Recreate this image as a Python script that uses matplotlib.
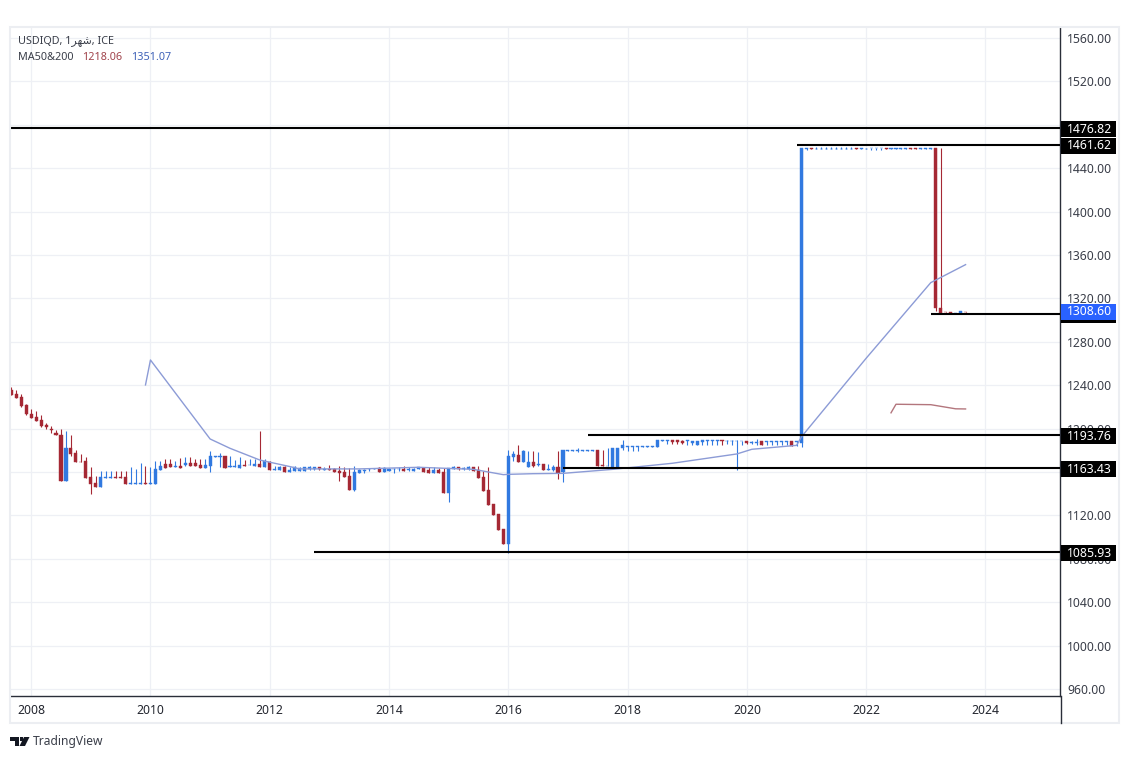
import matplotlib
matplotlib.use("Agg")
import matplotlib.pyplot as plt
import numpy as np
from matplotlib.patches import Rectangle, Polygon
from matplotlib.transforms import blended_transform_factory

plt.rcParams['font.family'] = ['Noto Sans', 'DejaVu Sans']

W, H = 1130, 759
RED = '#a52834'
BLUE = '#3179e0'
TEXT = '#3a3e49'
GRID = '#eef0f5'

# monthly candles, one row per calendar year, first candle is sep 2007
highs = [
    1238, 1235.6, 1231.9, 1222.7,
    1217.8, 1215.9, 1212.5, 1205.5, 1202.4, 1198.7, 1199.3, 1197.8, 1194.1, 1180.3, 1176.6, 1173.5,
    1164.3, 1156, 1160.6, 1160.9, 1160.9, 1160.9, 1160.9, 1160.9, 1164.3, 1162.8, 1168, 1165.5,
    1164.3, 1170.2, 1170.2, 1171.7, 1171.7, 1169.8, 1172.9, 1173.5, 1173.5, 1172, 1172, 1172,
    1179.4, 1174.8, 1177.8, 1174.8, 1174.8, 1171, 1173.5, 1171, 1172.3, 1172.3, 1198, 1171.7,
    1170.2, 1165.5, 1165.5, 1165.5, 1164.9, 1165.5, 1164.9, 1164.9, 1165.5, 1164.9, 1164.9, 1164.3,
    1166.4, 1164, 1165.5, 1164.9, 1163.4, 1165.5, 1162.4, 1163.1, 1163.7, 1163.4, 1164.3, 1164.3,
    1163.7, 1163.7, 1164.3, 1165.5, 1164.9, 1163.7, 1164.3, 1164.3, 1164.3, 1164.3, 1163.4, 1163.4,
    1163.4, 1165.5, 1164.6, 1164.3, 1165.5, 1164.3, 1165.5, 1161.2, 1164.3, 1130.5, 1121.3, 1107.2,
    1180.3, 1179.7, 1184.9, 1180.3, 1179.7, 1179.7, 1178.4, 1167.4, 1167.1, 1166.4, 1179.6, 1180.3,
    1180.2, 1180.2, 1181.8, 1180.2, 1180.2, 1180.2, 1179.9, 1179.9, 1182.1, 1182.1, 1182.1, 1189.5,
    1183.9, 1183.9, 1183.9, 1183.9, 1183.9, 1183.9, 1189.5, 1189.5, 1189.5, 1189.5, 1189.5, 1189.5,
    1189.5, 1188.9, 1188.9, 1189.5, 1189.5, 1189.5, 1189.5, 1189.5, 1189.5, 1189.5, 1189.5, 1188.9,
    1188.5, 1188.9, 1190.1, 1188.5, 1188.5, 1188.5, 1188.5, 1188.5, 1188.5, 1188.5, 1188.5, 1458.6,
    1458.6, 1458.6, 1459.2, 1459.2, 1459.2, 1459.2, 1459.2, 1459.2, 1459.2, 1459.2, 1458.6, 1458.6,
    1459, 1458.6, 1458.6, 1458.6, 1458.6, 1458.3, 1458.3, 1458.3, 1458.3, 1458.3, 1458.3, 1458.3,
    1458.3, 1458.3, 1458.3, 1458.3, 1307.8, 1307.8, 1306.8, 1308.1, 1307.8,
]
lows = [
    1231.3, 1228.5, 1220.2, 1212.5,
    1209.5, 1206.7, 1201.8, 1199.6, 1196.3, 1194.4, 1152, 1152, 1175, 1169.5, 1169.2, 1154.8,
    1140, 1146.5, 1146.5, 1154.8, 1154.8, 1154.8, 1154.8, 1149.3, 1149.3, 1149.3, 1149.3, 1149.3,
    1149.3, 1149.3, 1162.2, 1163.7, 1164.6, 1164.6, 1163.7, 1165.5, 1165.5, 1165.5, 1163.7, 1163.7,
    1160.3, 1173.5, 1164.3, 1163.7, 1164.9, 1164.9, 1163.7, 1165.5, 1166.2, 1165.5, 1164.9, 1164.9,
    1161.9, 1161.9, 1161.9, 1160, 1160, 1161.3, 1161.2, 1161.2, 1161.8, 1161.8, 1161.8, 1161.8,
    1161.8, 1160.3, 1152, 1155.7, 1143.4, 1142.5, 1159.4, 1159.4, 1160.6, 1162.8, 1160, 1160,
    1160.6, 1159.4, 1161.2, 1161.2, 1161.2, 1161.2, 1162.4, 1160.3, 1159.4, 1159.4, 1159.4, 1141,
    1132.7, 1162.4, 1161.8, 1161.8, 1161.8, 1161.2, 1154.5, 1142.8, 1129.6, 1120.4, 1106.5, 1093.6,
    1085, 1170.4, 1169.2, 1169.2, 1164.9, 1164.9, 1165.5, 1161.8, 1161.8, 1161.2, 1153.5, 1151,
    1179.6, 1179.6, 1178.1, 1179.6, 1179.6, 1179.6, 1165.5, 1165.5, 1165.2, 1164.6, 1164.6, 1180.3,
    1179.6, 1179.6, 1179.6, 1183.3, 1183.3, 1183.3, 1183.3, 1188.9, 1185.8, 1185.8, 1185.8, 1185.8,
    1184.9, 1184.9, 1184.6, 1184.9, 1184.9, 1184.9, 1184.9, 1184.9, 1185.8, 1184.9, 1161.8, 1184.9,
    1185.8, 1185.8, 1184.9, 1184.9, 1184.6, 1184.6, 1184.6, 1184.6, 1184.6, 1184.2, 1184.2, 1183,
    1457, 1457.4, 1457.4, 1457.4, 1457.4, 1457.4, 1457.4, 1457.4, 1457.4, 1457.4, 1457.4, 1457.4,
    1457.4, 1457, 1457, 1457, 1457.4, 1458, 1458, 1458, 1458, 1458, 1458, 1458,
    1458, 1458, 1308.7, 1305.9, 1305.6, 1306.2, 1306.5, 1306.2, 1305.6,
]
body_top = [
    1235.6, 1231.9, 1228.8, 1221.8,
    1213.5, 1210.7, 1207.6, 1203.3, 1199.3, 1196.3, 1194.1, 1181.8, 1182.1, 1177.5, 1169.5, 1170.2,
    1155.1, 1149.9, 1155.1, 1155.4, 1155.4, 1155.4, 1155.4, 1155.4, 1149.6, 1149.6, 1149.6, 1149.6,
    1149.6, 1162.8, 1165.5, 1167.4, 1167.4, 1165.2, 1165.2, 1168.3, 1168.3, 1168.3, 1166.8, 1166.8,
    1174.8, 1174.8, 1174.8, 1174.8, 1165.5, 1165.5, 1166.5, 1166.5, 1166.8, 1167.4, 1167.4, 1170.2,
    1169.2, 1162.5, 1164.9, 1164.9, 1161.9, 1164.9, 1164, 1164.3, 1164.9, 1164.3, 1164.3, 1162.8,
    1162.8, 1162.8, 1160.6, 1160, 1156.3, 1160, 1161.8, 1162.1, 1163.1, 1163.1, 1163.7, 1163.4,
    1162.4, 1163.1, 1163.1, 1162.8, 1162.4, 1162.8, 1164.3, 1164, 1161.8, 1161.8, 1161.8, 1160,
    1163.4, 1164.3, 1164.3, 1163.7, 1164.3, 1164.3, 1161.8, 1155.1, 1143.4, 1130.5, 1121.3, 1107.2,
    1174.7, 1176.6, 1175.7, 1179.7, 1169.2, 1169.2, 1167.4, 1167.4, 1162.8, 1164.9, 1164.6, 1180.2,
    1179.9, 1179.9, 1179.9, 1179.9, 1179.9, 1179.9, 1179.9, 1166.7, 1165.5, 1182.1, 1182.1, 1184.9,
    1183.9, 1183.9, 1183.9, 1183.9, 1183.9, 1183.9, 1189.5, 1189.5, 1189.5, 1189.5, 1189.5, 1188.9,
    1189.2, 1188.9, 1188.9, 1189.5, 1189.2, 1189.2, 1189.2, 1189.5, 1188.9, 1188.9, 1188.9, 1188.9,
    1188.5, 1187.9, 1187.6, 1188.5, 1188.2, 1188.2, 1188.2, 1188.2, 1188.2, 1188.5, 1188.2, 1458.3,
    1458.3, 1458.6, 1457.8, 1457.8, 1457.8, 1457.8, 1457.8, 1457.8, 1457.8, 1457.8, 1458.6, 1458.6,
    1458, 1458.4, 1458.4, 1458.4, 1458.6, 1458.3, 1458.3, 1458.3, 1458.3, 1458.3, 1458.3, 1458.3,
    1458.3, 1458.3, 1458.3, 1310.8, 1307.8, 1307.8, 1306.8, 1308.1, 1307.8,
]
body_bot = [
    1231.3, 1228.5, 1220.8, 1213.2,
    1210.1, 1207.3, 1202.7, 1201.8, 1198.4, 1194.4, 1152, 1152, 1176.9, 1169.5, 1169.2, 1154.8,
    1149.3, 1146.5, 1146.5, 1154.8, 1154.8, 1154.8, 1154.8, 1149.3, 1149.3, 1149.3, 1149.3, 1149.3,
    1149.3, 1149.3, 1162.2, 1163.7, 1164.6, 1164.6, 1163.7, 1166.2, 1165.5, 1165.5, 1163.7, 1163.7,
    1165.5, 1174.2, 1174.2, 1163.7, 1164.9, 1164.9, 1163.7, 1165.5, 1166.2, 1165.5, 1164.9, 1164.9,
    1161.9, 1161.9, 1161.9, 1160, 1160, 1161.3, 1161.2, 1161.2, 1162.4, 1162.4, 1162.4, 1162.1,
    1162.1, 1160.3, 1159.4, 1155.7, 1143.4, 1143.4, 1159.4, 1161.2, 1162.4, 1162.8, 1160, 1160.3,
    1161.2, 1162.4, 1162.4, 1161.2, 1161.8, 1161.2, 1162.4, 1160.3, 1159.4, 1159.4, 1159.4, 1141,
    1141, 1163.1, 1162.4, 1162.4, 1162.4, 1161.2, 1154.5, 1142.8, 1129.6, 1120.4, 1106.5, 1093.6,
    1093.6, 1174.1, 1169.2, 1169.2, 1164.9, 1165.5, 1166.1, 1161.8, 1161.8, 1161.8, 1158.7, 1159.7,
    1179.6, 1179.6, 1179.6, 1179.6, 1179.6, 1179.6, 1165.5, 1165.5, 1165.2, 1164.6, 1164.6, 1181.8,
    1183.3, 1183.3, 1183.3, 1183.3, 1183.3, 1183.3, 1183.3, 1188.9, 1188.9, 1187.6, 1187.6, 1187,
    1188.9, 1187, 1184.6, 1187.9, 1188.9, 1188.9, 1188.9, 1188.5, 1188.5, 1188.5, 1188.5, 1188.5,
    1186.4, 1187, 1187, 1184.9, 1187.9, 1187.9, 1187.9, 1187.9, 1187.9, 1184.2, 1187.9, 1187,
    1458, 1457.4, 1457.4, 1457.4, 1457.4, 1457.4, 1457.4, 1457.4, 1457.4, 1457.4, 1457.4, 1457.4,
    1457.6, 1458.2, 1458.2, 1458.2, 1457.4, 1458, 1458, 1458, 1458, 1458, 1458, 1458,
    1458, 1458, 1310.8, 1305.9, 1307.2, 1306.2, 1306.5, 1306.2, 1307.2,
]
# R closed lower, B closed higher
direction = (
    "RRRR" "RRRRRRRBRRRR" "RRBBBRRRBBBR" "BBBRRBRBRRRB" "BBBRBBBRBBRB" "RBBRBBBBBBRB"
    "RRRRRBBBBBRB" "BBBRBBBRRBRR" "BBRBBRRRRRRR" "BBRBBRBRBBRB" "BBBBBBRRBBBB" "BBBBBBBBBRRR"
    "BBBBBBBRBBBB" "RBBRBBBBBRBB" "BRBBBBBBBBRB" "BBBBRBBBBRRB" "BBRRRRBBR"
)

# moving averages, as bar number and price
ma200_bars = [27, 28, 40, 44, 50, 56, 58, 70, 82, 93, 99, 100, 105, 111, 121, 133, 146, 149, 158, 159, 172, 185, 192]
ma200_vals = [1240.2, 1263.2, 1190.4, 1181.8, 1171, 1165, 1162.8, 1162.8, 1164.3, 1162.4, 1157.5, 1157.8, 1158.4, 1158.7, 1162.4, 1168, 1176.6, 1180.9, 1184.5, 1192.5, 1264.8, 1334.5, 1351.07]
ma50_bars = [177, 178, 185, 190, 192]
ma50_vals = [1214.5, 1222.4, 1222, 1218.2, 1218.06]

# drawn horizontal lines: price, first bar
line_prices = [1476.82, 1461.62, 1305.6, 1193.76, 1163.2, 1085.93]
line_starts = [-1, 158, 185, 116, 111, 61]
# labels on the price scale
tag_prices = [1476.82, 1461.62, 1193.76, 1163.43, 1085.93]
last_price = 1308.60

price_ticks = list(range(960, 1561, 40))
hidden_ticks = [1160, 1480]  # fully covered by the tags in the original
year_bars = [4, 28, 52, 76, 100, 124, 148, 172, 196]
year_labels = ['2008', '2010', '2012', '2014', '2016', '2018', '2020', '2022', '2024']

fig = plt.figure(figsize=(W / 100, H / 100), dpi=100, facecolor='white')


def fx(px):
    return px / W


def fy(px):
    return 1 - px / H


# outer frame of the widget
fig.add_artist(Rectangle((fx(10), fy(723)), fx(1109), 696 / H, transform=fig.transFigure,
                         fill=False, edgecolor='#eceef2', linewidth=1.5))

ax = fig.add_axes([fx(10), fy(696), 1050 / W, 669 / H])
ax.set_xlim(-0.26, 211)
ax.set_ylim(953.5, 1570.1)
ax.set_axisbelow(True)
ax.grid(True, color=GRID, linewidth=0.9)
for side in ['top', 'left']:
    ax.spines[side].set_visible(False)
for side in ['right', 'bottom']:
    ax.spines[side].set_color('#2a2e39')
    ax.spines[side].set_linewidth(1.0)

ax.yaxis.tick_right()
ax.set_yticks(price_ticks)
ax.set_yticklabels(['' if p in hidden_ticks else f'{p:.2f}' for p in price_ticks])
ax.set_xticks(year_bars)
ax.set_xticklabels(year_labels)
ax.tick_params(axis='y', length=0, pad=5, labelsize=8.8, labelcolor=TEXT)
ax.tick_params(axis='x', length=0, pad=6, labelsize=8.8, labelcolor='#23262f')

bars = np.arange(len(highs))
colors = [RED if d == 'R' else BLUE for d in direction]
ax.vlines(bars, lows, highs, colors=colors, linewidth=0.8, zorder=3)
ax.bar(bars, np.array(body_top) - np.array(body_bot), bottom=body_bot, width=0.62,
       color=colors, edgecolor=colors, linewidth=0.3, zorder=3)

ax.plot(ma200_bars, ma200_vals, color='#8c9bd6', linewidth=1.0, zorder=4)
ax.plot(ma50_bars, ma50_vals, color='#b3767d', linewidth=1.0, zorder=4)

for price, start in zip(line_prices, line_starts):
    ax.plot([start, 211], [price, price], color='black', linewidth=1.5, zorder=5, solid_capstyle='butt')

# price tags on the scale, they sit a pixel under the level
tag_trans = blended_transform_factory(ax.transAxes, ax.transData)


def price_tag(price, color, label=True):
    ax.add_patch(Rectangle((1.0005, price - 8.2), 55.5 / 1050, 14.8, transform=tag_trans,
                           facecolor=color, edgecolor='none', clip_on=False, zorder=6))
    if label:
        ax.text(1.0281, price - 1.0, f'{price:.2f}', transform=tag_trans, color='white', fontsize=8.8,
                ha='center', va='center', clip_on=False, zorder=7)


for price in tag_prices:
    price_tag(price, 'black')
# black tag of the lower line shows under the blue one
price_tag(1305.6, 'black', label=False)
price_tag(last_price, '#2962ff')

# price scale runs down through the time axis
fig.add_artist(plt.Line2D([fx(1060.5), fx(1060.5)], [fy(696), fy(723)], color='#2a2e39', linewidth=1.0))

# header
fig.text(fx(18), fy(41), 'USDIQD, 1\ufeae\ufeec\ufeb7, ICE', fontsize=7.8, color=TEXT, va='center')
fig.text(fx(18), fy(58), 'MA50&200', fontsize=7.8, color=TEXT, va='center')
fig.text(fx(82), fy(58), '1218.06', fontsize=7.8, color='#a0434b', va='center')
fig.text(fx(131), fy(58), '1351.07', fontsize=7.8, color='#3f62b8', va='center')

# tradingview mark
logo_color = '#131722'
fig.add_artist(Polygon([(fx(10), fy(737)), (fx(19), fy(737)), (fx(19), fy(746)), (fx(14.5), fy(746)),
                        (fx(14.5), fy(741)), (fx(10), fy(741))], closed=True,
                       transform=fig.transFigure, facecolor=logo_color, edgecolor='none'))
fig.add_artist(Polygon([(fx(24), fy(737)), (fx(29.5), fy(737)), (fx(25), fy(746)), (fx(19.5), fy(746))],
                       closed=True, transform=fig.transFigure, facecolor=logo_color, edgecolor='none'))
fig.add_artist(Rectangle((fx(19.8), fy(741)), fx(3), 4 / H, transform=fig.transFigure,
                         facecolor=logo_color, edgecolor='none'))
fig.text(fx(33), fy(741.5), 'TradingView', fontsize=8.7, color='#3a3e49', va='center')

fig.savefig('out.png', dpi=100)
